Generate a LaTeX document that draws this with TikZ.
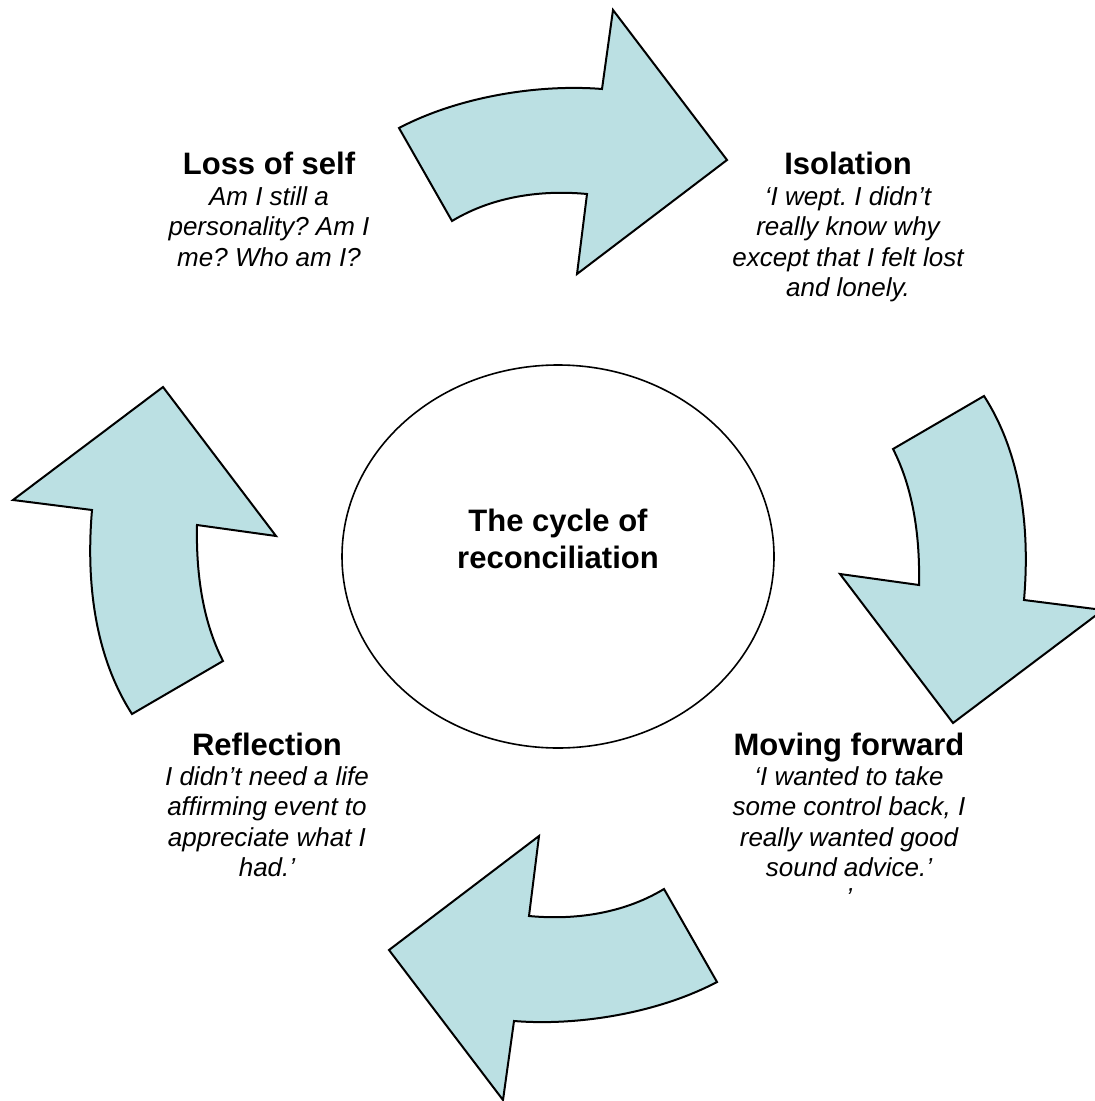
\documentclass[tikz,border=0pt]{standalone}
\usepackage{fontspec}
\setmainfont{Liberation Sans}
\frenchspacing
\usetikzlibrary{shapes.geometric,positioning}
\definecolor{arrowfill}{RGB}{187,224,227}
\tikzstyle{bigarrow}=[draw=black,fill=arrowfill,line width=1pt]
\tikzstyle{hub}=[ellipse,draw=black,line width=0.8pt,minimum width=216pt,minimum height=191.5pt,inner sep=0pt]
\tikzstyle{stagetitle}=[font=\fontsize{15.5}{18.5}\selectfont\bfseries,inner sep=0pt,align=center]
\tikzstyle{stagetext}=[font=\fontsize{13}{15.2}\selectfont\itshape,inner sep=0pt,align=center]

\begin{document}
\begin{tikzpicture}[x=0.5pt,y=-0.5pt]
    % Keep the page at the size of the picture
    \useasboundingbox (0,0) rectangle (1094,1101);

    % Draw the curved arrows, the lower pair is the upper pair turned round
    \foreach \rot in {0,180}
    {
        \begin{scope}[rotate around={\rot:(558,555)}]
            \path[bigarrow] (399,128) .. controls (460,96) and (540,84) .. (602,89)
                -- (613,10) -- (727,160) -- (577,274) -- (587,194)
                .. controls (545,190) and (495,195) .. (452,221) -- cycle;
            \path[bigarrow] (984,396) .. controls (1022,455) and (1030,530) .. (1024,600)
                -- (1103,610) -- (953,723) -- (840,574) -- (919,585)
                .. controls (920,539) and (914,490) .. (893,449) -- cycle;
        \end{scope}
    }

    % The middle of the cycle
    \node[hub] (hub) at (558,556.5) {};
    \node[stagetitle] (cycle) at (558,539) {The cycle of\\reconciliation};

    % Then the stage headings
    \foreach \pos/\name/\head in {{(269,175)/loss/Loss of self}, {(848,175)/isolation/Isolation}, {(267,755)/reflection/Reflection}, {(849,755)/moving/Moving forward}}
        \node[stagetitle,anchor=base] (\name) at \pos {\head};

    % And the quotes under them
    \node[stagetext,below=5.5pt of loss.base] (losstext) {Am I still a\\personality? Am I\\me? Who am I?};
    \node[stagetext,below=5.5pt of isolation.base] (isolationtext) {‘I wept. I didn’t\\really know why\\except that I felt lost\\and lonely.};
    \node[stagetext,below=5.5pt of reflection.base] (reflectiontext) {I didn’t need a life\\affirming event to\\appreciate what I\\had.’};
    \node[stagetext,below=5.5pt of moving.base] (movingtext) {‘I wanted to take\\some control back, I\\really wanted good\\sound advice.’\\’};
\end{tikzpicture}
\end{document}
